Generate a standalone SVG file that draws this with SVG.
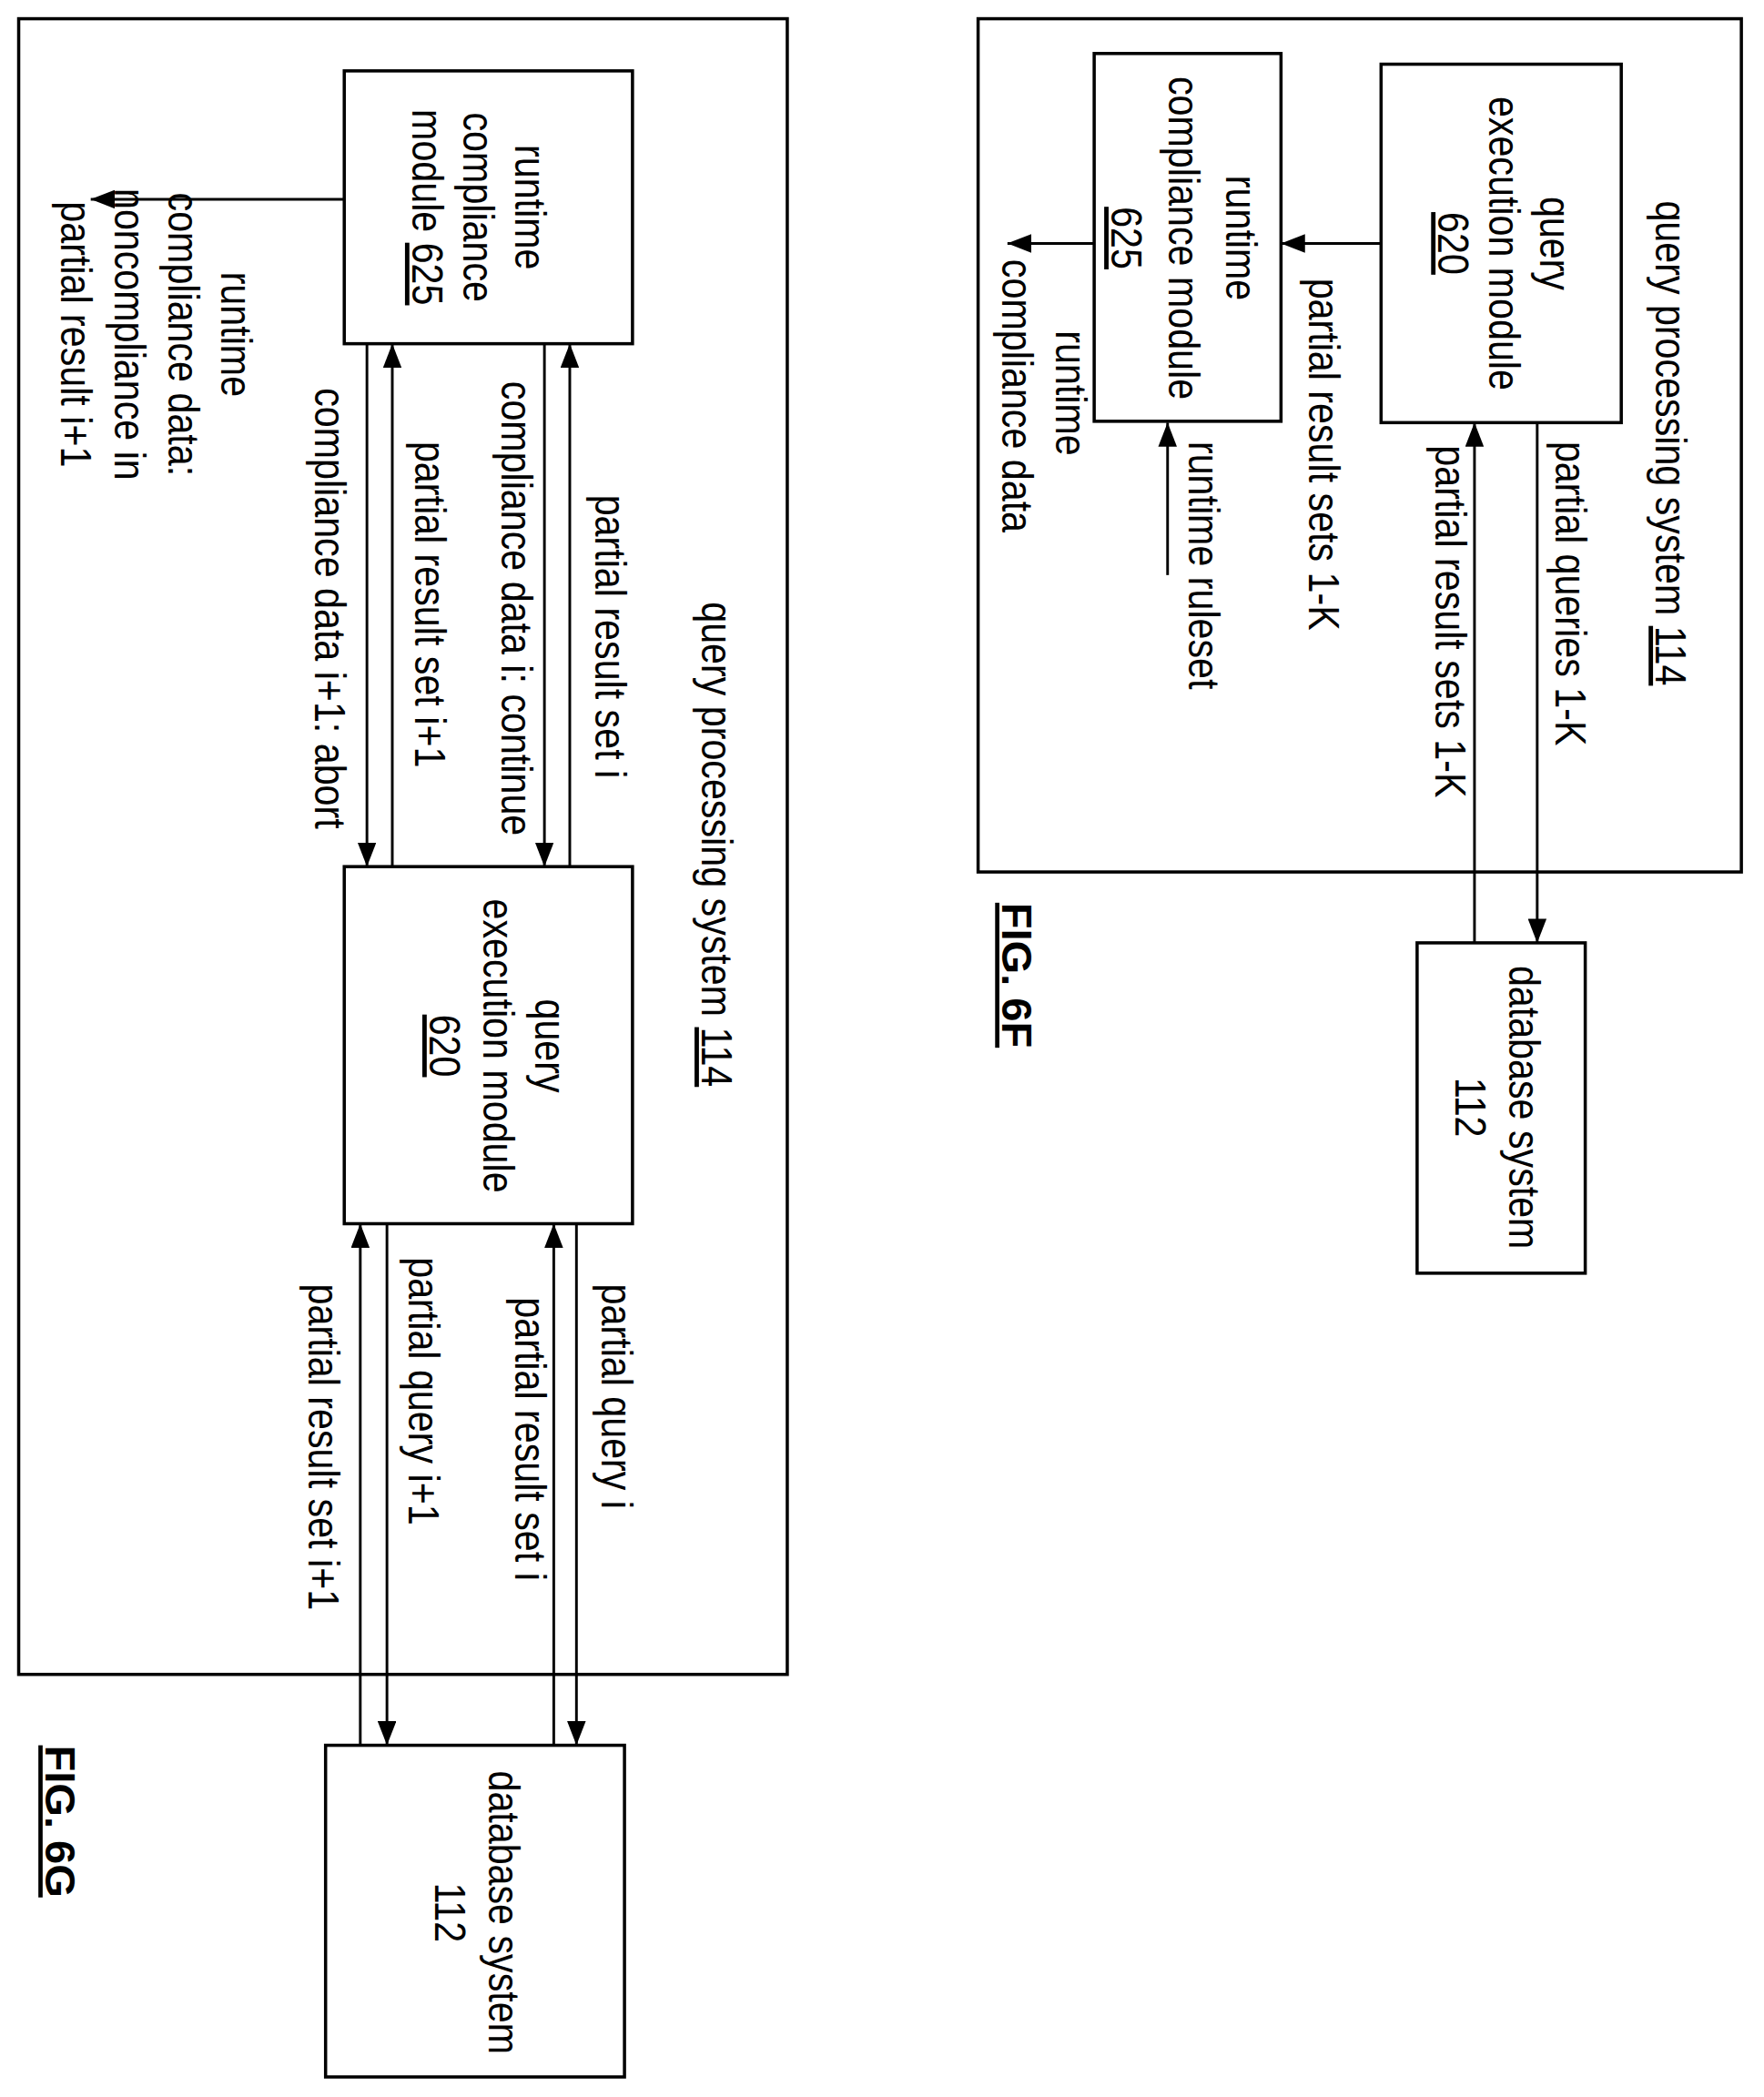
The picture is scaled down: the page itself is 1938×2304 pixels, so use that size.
<svg xmlns="http://www.w3.org/2000/svg" width="1938" height="2304" viewBox="0 0 1938 2304">
<style>
.b{fill:none;stroke:#000;stroke-width:2.4}
.c{stroke:#000;stroke-width:2;fill:none}
.a{marker-end:url(#ah)}
text{font-family:"Liberation Sans",Arial,sans-serif;font-size:33px;fill:#000}
.m{text-anchor:middle}
.u{text-decoration:underline}
.f{font-weight:bold;font-size:32px}
</style>
<defs>
<marker id="ah" markerUnits="userSpaceOnUse" markerWidth="18" markerHeight="14" refX="18" refY="7" orient="auto"><path d="M0,0 L18,7 L0,14 z" fill="#000"/></marker>
</defs>
<rect width="1938" height="2304" fill="#fff"/>
<g transform="scale(1.466,1.4694)">
<!-- FIG 6F -->
<g id="sys6f"><rect class="b" x="733" y="14" width="572" height="638"/>
<text transform="translate(1241,150) rotate(90) scale(0.85,1)">query processing system <tspan class="u">114</tspan></text></g>
<g id="qem6f"><rect class="b" x="1035" y="48" width="180" height="268"/>
<text class="m" transform="translate(1154,182) rotate(90) scale(0.85,1)">query</text>
<text class="m" transform="translate(1116,182) rotate(90) scale(0.85,1)">execution module</text>
<text class="m u" transform="translate(1078,182) rotate(90) scale(0.85,1)">620</text></g>
<g id="rcm6f"><rect class="b" x="820" y="40" width="140" height="275"/>
<text class="m" transform="translate(919,178) rotate(90) scale(0.85,1)">runtime</text>
<text class="m" transform="translate(876,178) rotate(90) scale(0.85,1)">compliance module</text>
<text class="m u" transform="translate(833,178) rotate(90) scale(0.85,1)">625</text></g>
<g id="db6f"><rect class="b" x="1062" y="705" width="126" height="247"/>
<text class="m" transform="translate(1131,828) rotate(90) scale(0.85,1)">database system</text>
<text class="m" transform="translate(1091,828) rotate(90) scale(0.85,1)">112</text></g>
<text class="f u" transform="translate(751,675) rotate(90)">FIG. 6F</text>
<g id="conn6f">
<line class="c a" x1="1035" y1="182" x2="960" y2="182"/>
<line class="c a" x1="820" y1="182" x2="755" y2="182"/>
<line class="c a" x1="875" y1="430" x2="875" y2="316"/>
<line class="c a" x1="1152" y1="316" x2="1152" y2="705"/>
<line class="c a" x1="1105" y1="705" x2="1105" y2="316"/>
<text transform="translate(981,208) rotate(90) scale(0.85,1)">partial result sets 1-K</text>
<text class="m" transform="translate(791,294) rotate(90) scale(0.85,1)">runtime</text>
<text class="m" transform="translate(751,296) rotate(90) scale(0.85,1)">compliance data</text>
<text transform="translate(891,330) rotate(90) scale(0.85,1)">runtime ruleset</text>
<text transform="translate(1166,330) rotate(90) scale(0.85,1)">partial queries 1-K</text>
<text transform="translate(1076,333) rotate(90) scale(0.85,1)">partial result sets 1-K</text>
</g>
<!-- FIG 6G -->
<g id="sys6g"><rect class="b" x="14" y="14" width="576" height="1238"/>
<text transform="translate(526,450) rotate(90) scale(0.85,1)">query processing system <tspan class="u">114</tspan></text></g>
<g id="rcm6g"><rect class="b" x="258" y="53" width="216" height="204"/>
<text class="m" transform="translate(386,155) rotate(90) scale(0.85,1)">runtime</text>
<text class="m" transform="translate(347,155) rotate(90) scale(0.85,1)">compliance</text>
<text class="m" transform="translate(309,155) rotate(90) scale(0.85,1)">module <tspan class="u">625</tspan></text></g>
<g id="qem6g"><rect class="b" x="258" y="648" width="216" height="267"/>
<text class="m" transform="translate(401,782) rotate(90) scale(0.85,1)">query</text>
<text class="m" transform="translate(362,782) rotate(90) scale(0.85,1)">execution module</text>
<text class="m u" transform="translate(322,782) rotate(90) scale(0.85,1)">620</text></g>
<g id="db6g"><rect class="b" x="244" y="1305" width="224" height="248"/>
<text class="m" transform="translate(366,1430) rotate(90) scale(0.85,1)">database system</text>
<text class="m" transform="translate(326,1430) rotate(90) scale(0.85,1)">112</text></g>
<text class="f u" transform="translate(34,1305) rotate(90)">FIG. 6G</text>
<g id="conn6g">
<line class="c a" x1="258" y1="149" x2="68" y2="149"/>
<text class="m" transform="translate(166,250) rotate(90) scale(0.85,1)">runtime</text>
<text class="m" transform="translate(126,250) rotate(90) scale(0.85,1)">compliance data:</text>
<text class="m" transform="translate(86,250) rotate(90) scale(0.85,1)">noncompliance in</text>
<text class="m" transform="translate(46,250) rotate(90) scale(0.85,1)">partial result i+1</text>
<line class="c a" x1="427" y1="648" x2="427" y2="257"/>
<line class="c a" x1="408" y1="257" x2="408" y2="648"/>
<line class="c a" x1="294" y1="648" x2="294" y2="257"/>
<line class="c a" x1="275" y1="257" x2="275" y2="648"/>
<text transform="translate(446,370) rotate(90) scale(0.85,1)">partial result set i</text>
<text transform="translate(376,285) rotate(90) scale(0.85,1)">compliance data i: continue</text>
<text transform="translate(311,330) rotate(90) scale(0.85,1)">partial result set i+1</text>
<text transform="translate(236,290) rotate(90) scale(0.85,1)">compliance data i+1: abort</text>
<line class="c a" x1="432" y1="915" x2="432" y2="1305"/>
<line class="c a" x1="415" y1="1305" x2="415" y2="915"/>
<line class="c a" x1="290" y1="915" x2="290" y2="1305"/>
<line class="c a" x1="270" y1="1305" x2="270" y2="915"/>
<text transform="translate(451,960) rotate(90) scale(0.85,1)">partial query i</text>
<text transform="translate(386,970) rotate(90) scale(0.85,1)">partial result set i</text>
<text transform="translate(306,940) rotate(90) scale(0.85,1)">partial query i+1</text>
<text transform="translate(231,960) rotate(90) scale(0.85,1)">partial result set i+1</text>
</g>
</g>
</svg>
